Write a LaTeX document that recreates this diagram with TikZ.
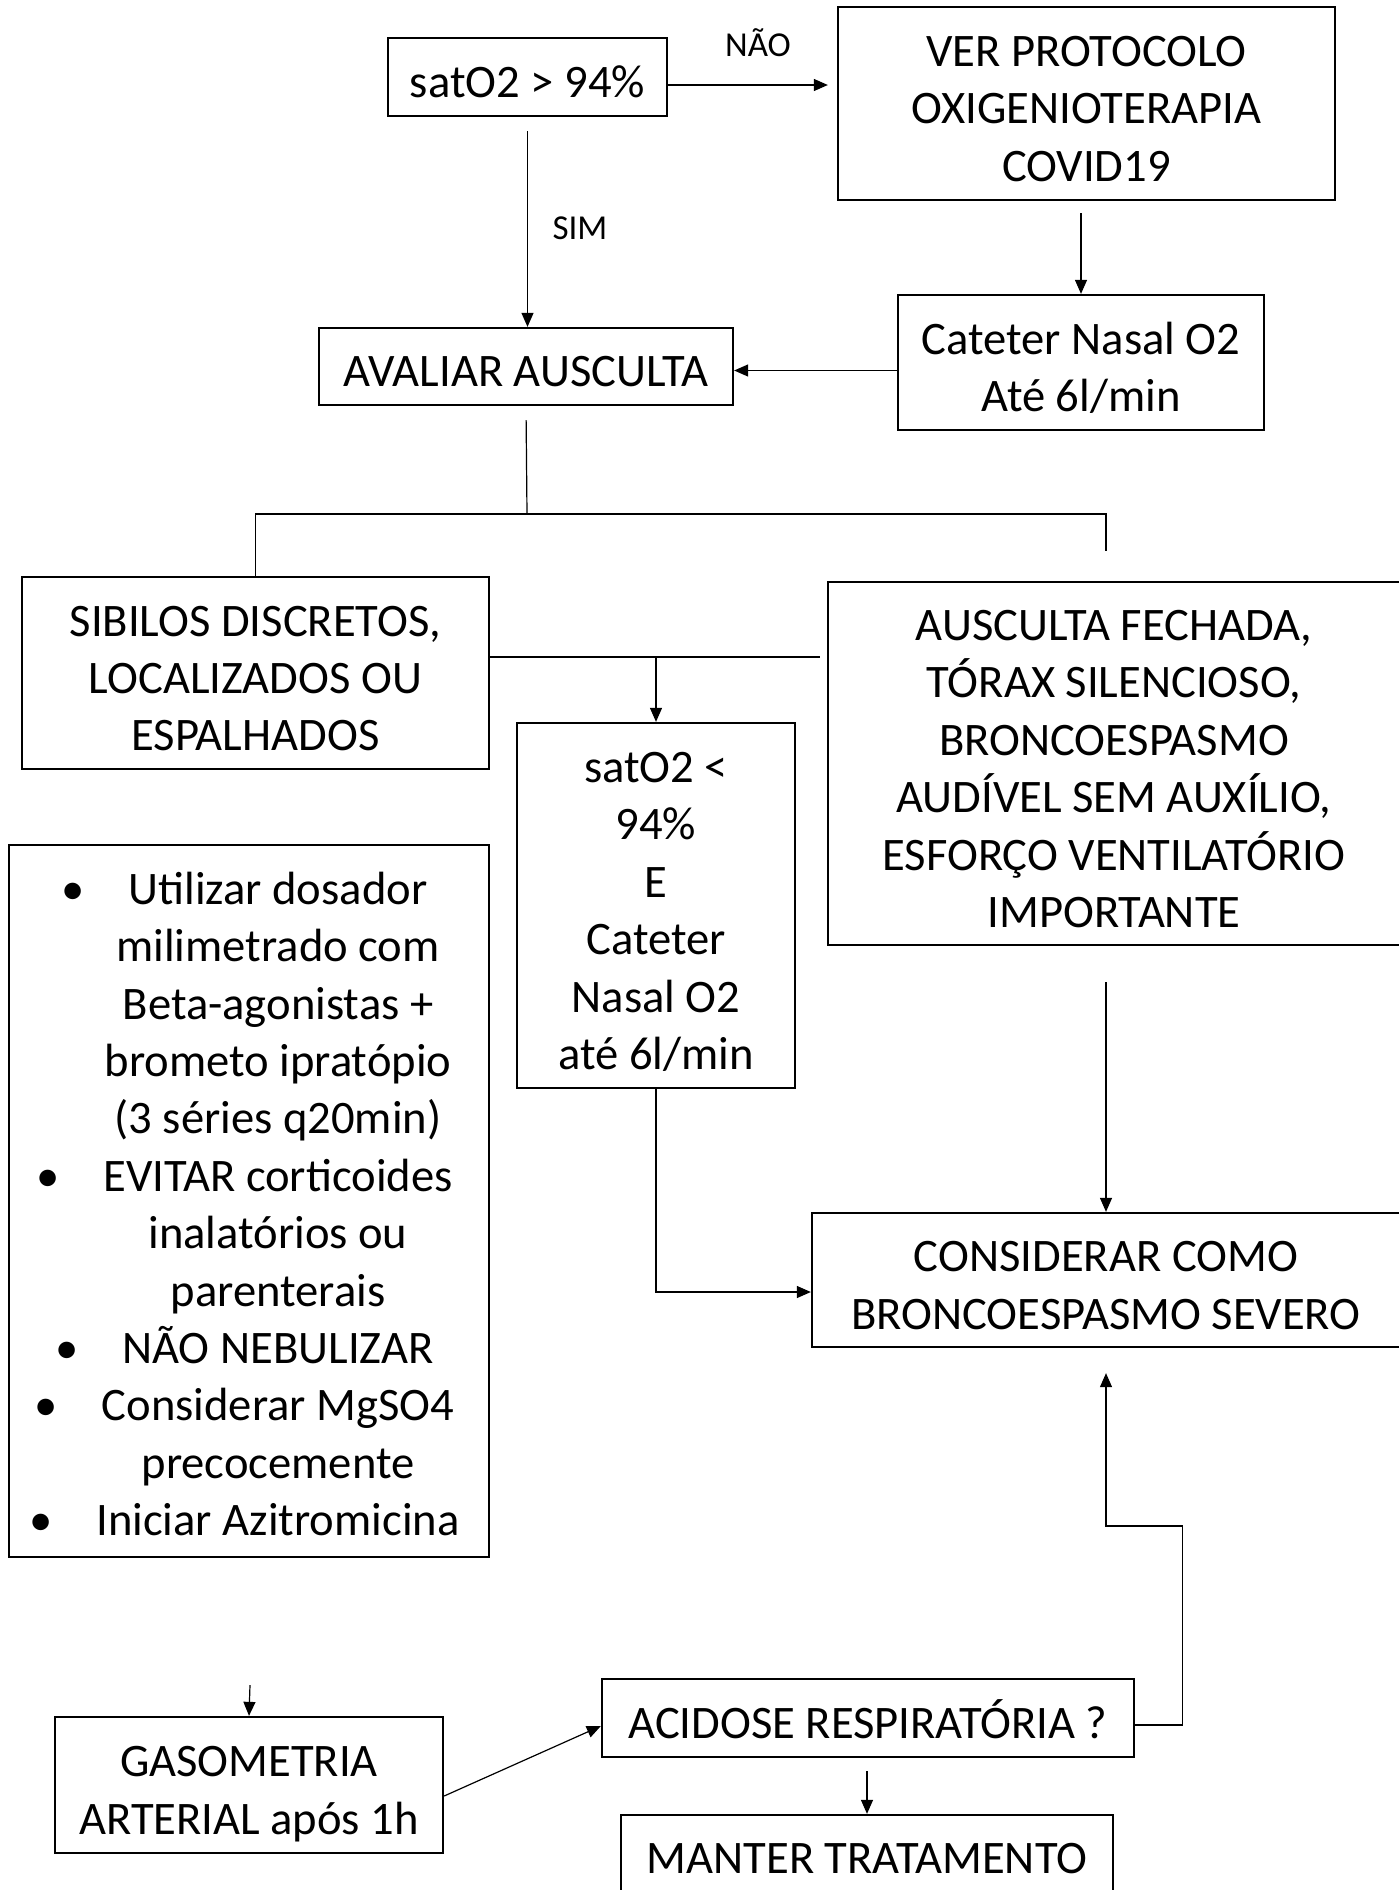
\documentclass[tikz,border=0pt]{standalone}
\usepackage{fontspec}
\setmainfont{Carlito}
\usetikzlibrary{arrows.meta}

\begin{document}
\begin{tikzpicture}[x=0.5pt,y=-0.5pt,line width=0.6pt,
    font=\fontsize{23.3}{28.7}\selectfont,
    box/.style={draw,line width=1.15pt,align=center,inner sep=0pt,text depth=4pt,text height=24.4pt},
    nlines/.style={text height={#1*28.7pt-4.3pt}},
    arr/.style={-{Triangle[length=7pt,width=6pt]}},
    lbl/.style={font=\fontsize{17.5}{21}\selectfont}]
\useasboundingbox (0,0) rectangle (1398,1890);
\node (sat1) [box,minimum width=139.5pt,minimum height=39pt] at (527.5,77) {satO2 > 94\%};
\node (ver) [box,nlines=3,minimum width=248.5pt,minimum height=96.5pt] at (1086.5,103.5) {VER PROTOCOLO\\OXIGENIOTERAPIA\\COVID19};
\node (aval) [box,minimum width=207pt,minimum height=38.5pt] at (526,366.5) {AVALIAR AUSCULTA};
\node (cat) [box,nlines=2,minimum width=183pt,minimum height=67.5pt] at (1081,362.5) {Cateter Nasal O2\\Até 6l/min};
\node (sib) [box,nlines=3,minimum width=233.5pt,minimum height=96pt] at (255.5,673) {SIBILOS DISCRETOS,\\LOCALIZADOS OU\\ESPALHADOS};
\node (ausc) [box,nlines=6,minimum width=286pt,minimum height=181.5pt] at (1114,763.5) {AUSCULTA FECHADA,\\TÓRAX SILENCIOSO,\\BRONCOESPASMO\\AUDÍVEL SEM AUXÍLIO,\\ESFORÇO VENTILATÓRIO\\IMPORTANTE};
\node (sat2) [box,nlines=6,minimum width=139pt,minimum height=182.5pt] at (656,905.5) {satO2 <\\94\%\\E\\Cateter\\Nasal O2\\até 6l/min};
\node (cons) [box,nlines=2,minimum width=294pt,minimum height=67pt] at (1106,1280) {CONSIDERAR COMO\\BRONCOESPASMO SEVERO};
\node (bul) [box,minimum width=240pt,minimum height=356pt] at (249,1201) {};
\node (bultxt) [align=center] at (278,1204) {\llap{\textbullet\hspace{22pt}}Utilizar dosador\\milimetrado com\\Beta-agonistas +\\brometo ipratópio\\(3 séries q20min)\\\llap{\textbullet\hspace{22pt}}EVITAR corticoides\\inalatórios ou\\parenterais\\\llap{\textbullet\hspace{22pt}}NÃO NEBULIZAR\\\llap{\textbullet\hspace{22pt}}Considerar MgSO4\\precocemente\\\llap{\textbullet\hspace{22pt}}Iniciar Azitromicina};
\node (gas) [box,nlines=2,minimum width=194pt,minimum height=68pt] at (249,1785) {GASOMETRIA\\ARTERIAL após 1h};
\node (acid) [box,minimum width=266pt,minimum height=39pt] at (868,1718) {ACIDOSE RESPIRATÓRIA ?};
\node (mant) [box,minimum width=246pt,minimum height=38.5pt] at (867,1853.5) {MANTER TRATAMENTO};
\node (nao) [lbl] at (758,43) {NÃO};
\node (sim) [lbl] at (580,228) {SIM};
\coordinate (split) at (527,514);
\coordinate (dang) at (1106,551);
\coordinate (sibend) at (820,657);
\coordinate (gasin) at (250,1685);
\draw[arr,shorten >=4.5pt] ([yshift=-4pt]sat1.east) -- ([yshift=-4pt]sat1.east -| ver.west);
\draw[arr,shorten <=7pt] (sat1.south) -- (sat1.south |- aval.north);
\draw[arr,shorten <=6pt] (cat.north |- ver.south) -- (cat.north);
\draw[arr] ([yshift=-4pt]cat.west) -- ([yshift=-4pt]cat.west -| aval.east);
\draw[shorten <=7pt] (aval.south) -- (split);
\draw (sib.north) |- (split) -| (dang);
\draw ([yshift=8pt]sib.east) -- (sibend);
\draw[arr] (sat2.north |- sibend) -- (sat2.north);
\draw[arr] (sat2.south) |- ([yshift=-6pt]cons.west);
\draw[arr,shorten <=18pt] (cons.north |- ausc.south) -- (cons.north);
\draw[arr] (gasin) -- (gas.north);
\draw[arr] ([yshift=-5.5pt]gas.east) -- ([yshift=-4pt]acid.west);
\draw[arr,shorten >=12.5pt] ([yshift=-3.5pt]acid.east) -| ++(23.5pt,99.5pt) -| (cons.south);
\draw[arr,shorten <=6.5pt] (mant.north |- acid.south) -- (mant.north);
\end{tikzpicture}
\end{document}
